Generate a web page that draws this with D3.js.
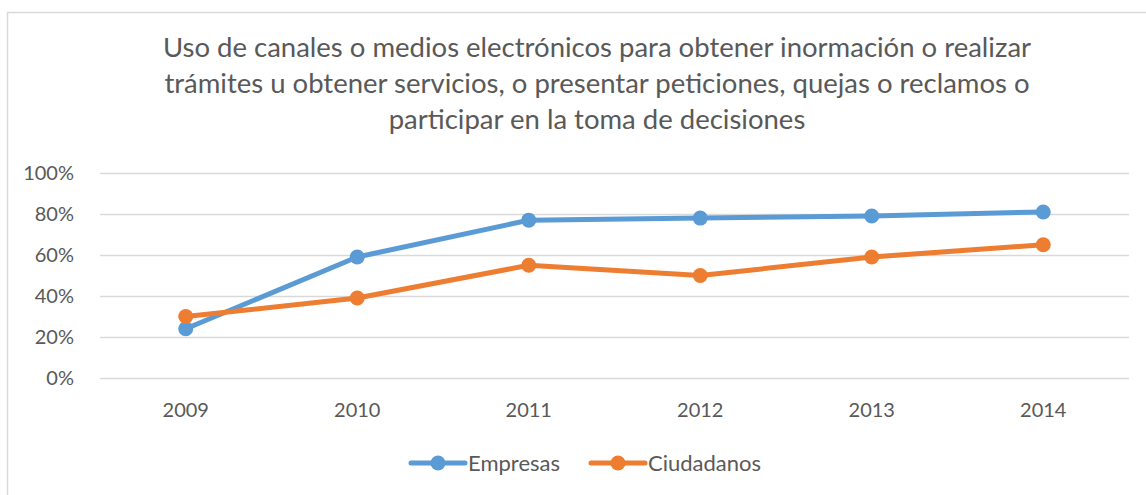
<!DOCTYPE html>
<html>
<head>
<meta charset="utf-8">
<script src="https://cdn.jsdelivr.net/npm/d3@7"></script>
<style>
  body { margin: 0; background: #fff; }
  text { font-family: Lato, sans-serif; fill: #595959; }
</style>
</head>
<body>
<script>
var years = ['2009', '2010', '2011', '2012', '2013', '2014'];
var empresas = [0.24, 0.59, 0.77, 0.78, 0.79, 0.81];
var ciudadanos = [0.30, 0.39, 0.55, 0.50, 0.59, 0.65];
var yTicks = [0, 0.2, 0.4, 0.6, 0.8, 1];
var titleLines = [
  'Uso de canales o medios electrónicos para obtener inormación o realizar',
  'trámites u obtener servicios, o presentar peticiones, quejas o reclamos o',
  'participar en la toma de decisiones'
];

var series = [
  { name: 'Empresas', values: empresas, color: '#5b9bd5' },
  { name: 'Ciudadanos', values: ciudadanos, color: '#ed7d31' }
];

var width = 1146, height = 495;
var svg = d3.select('body').append('svg')
  .attr('width', width)
  .attr('height', height);

// chart border
svg.append('rect')
  .attr('x', 7.5).attr('y', 12.5)
  .attr('width', 1150).attr('height', 500)
  .attr('fill', 'none')
  .attr('stroke', '#d9d9d9')
  .attr('stroke-width', 1.5);

svg.selectAll('.title')
  .data(titleLines)
  .enter()
  .append('text')
  .attr('class', 'title')
  .attr('x', 597)
  .attr('y', function(d, i) { return 57 + i * 36; })
  .attr('text-anchor', 'middle')
  .attr('font-size', 27.5)
  .text(function(d) { return d; });

var x = d3.scaleBand().domain(years).range([100, 1129]);
var y = d3.scaleLinear().domain([0, 1]).range([378, 173]);

var grid = svg.append('g');
grid.selectAll('line')
  .data(yTicks)
  .enter()
  .append('line')
  .attr('x1', 100).attr('x2', 1129)
  .attr('y1', function(d) { return Math.round(y(d)) + 0.5; })
  .attr('y2', function(d) { return Math.round(y(d)) + 0.5; })
  .attr('stroke', '#d9d9d9')
  .attr('stroke-width', 1.5);

var yAxis = svg.append('g')
  .attr('transform', 'translate(77,0)')
  .call(d3.axisLeft(y).tickValues(yTicks).tickFormat(d3.format('.0%')).tickSize(0));
yAxis.select('.domain').remove();
yAxis.selectAll('text').attr('font-size', 20).attr('fill', '#595959').attr('font-family', 'Lato, sans-serif');

var xAxis = svg.append('g')
  .attr('transform', 'translate(0,400)')
  .call(d3.axisBottom(x).tickSize(0));
xAxis.select('.domain').remove();
xAxis.selectAll('text').attr('font-size', 20).attr('fill', '#595959').attr('font-family', 'Lato, sans-serif');

var line = d3.line()
  .x(function(d, i) { return x(years[i]) + x.bandwidth() / 2; })
  .y(function(d) { return y(d); });

series.forEach(function(s) {
  var g = svg.append('g');
  g.append('path')
    .attr('d', line(s.values))
    .attr('fill', 'none')
    .attr('stroke', s.color)
    .attr('stroke-width', 5)
    .attr('stroke-linejoin', 'round');
  g.selectAll('circle')
    .data(s.values)
    .enter()
    .append('circle')
    .attr('cx', function(d, i) { return x(years[i]) + x.bandwidth() / 2; })
    .attr('cy', function(d) { return y(d); })
    .attr('r', 7.5)
    .attr('fill', s.color);
});

// legend
var legendX = [411, 591];
var legend = svg.selectAll('.legend')
  .data(series)
  .enter()
  .append('g')
  .attr('class', 'legend')
  .attr('transform', function(d, i) { return 'translate(' + legendX[i] + ',463)'; });
legend.append('line')
  .attr('x1', 0).attr('x2', 54)
  .attr('y1', 0).attr('y2', 0)
  .attr('stroke', function(d) { return d.color; })
  .attr('stroke-width', 5)
  .attr('stroke-linecap', 'round');
legend.append('circle')
  .attr('cx', 27).attr('cy', 0).attr('r', 7.5)
  .attr('fill', function(d) { return d.color; });
legend.append('text')
  .attr('x', 57).attr('y', 8)
  .attr('font-size', 22)
  .text(function(d) { return d.name; });
</script>
</body>
</html>
